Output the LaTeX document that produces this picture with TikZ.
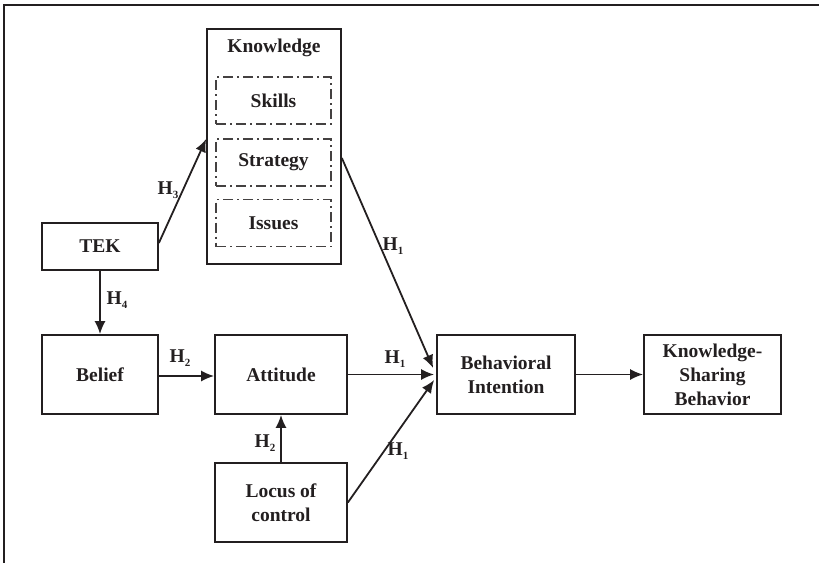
\documentclass[tikz,border=0pt]{standalone}
\usepackage{fontspec}
\setmainfont{Liberation Serif}
\usetikzlibrary{arrows.meta}
\definecolor{ink}{HTML}{231F20}
\newcommand{\hyp}[1]{H\raisebox{-3.5pt}{\fontsize{11}{11}\selectfont #1}}
\begin{document}
\begin{tikzpicture}[x=1pt,y=-1pt,
  every node/.style={font=\fontsize{19.5}{24}\selectfont\bfseries, text=ink},
  box/.style={draw=ink, line width=1.7pt, inner sep=0pt, align=center},
  dbox/.style={draw=ink!85, line width=1.1pt, inner sep=0pt, align=center,
     dash pattern=on 10pt off 4pt on 2pt off 4pt, minimum width=115pt, minimum height=47pt},
  conn/.style={draw=ink, line width=1.8pt, -{Latex[length=13pt,width=11pt]}},
  hlab/.style={inner sep=0pt}]
\useasboundingbox (0,0) rectangle (819,563);
\draw[ink, line width=1.6pt] (819,5) -- (4,5) -- (4,563);
% nodes
\node[box, minimum width=134pt, minimum height=235pt] (know) at (274,146.5) {};
\node[hlab] (kt) at (274,48) {Knowledge};
\node[dbox] (skills) at (273.5,100.5) {Skills};
\node[dbox] (strat) at (273.5,162.5) {Strategy};
\node[dbox] (issues) at (273.5,223) {Issues};
\node[box, minimum width=116pt, minimum height=47pt] (tek) at (100,246.5) {TEK};
\node[box, minimum width=116pt, minimum height=79pt] (belief) at (100,374.5) {Belief};
\node[box, minimum width=132pt, minimum height=79pt] (att) at (281,374.5) {Attitude};
\node[box, minimum width=132pt, minimum height=79pt] (loc) at (281,502.5) {Locus of\\control};
\node[box, minimum width=138pt, minimum height=79pt] (bi) at (506,374.5) {Behavioral\\Intention};
\node[box, minimum width=137pt, minimum height=79pt] (ksb) at (712.5,374.5) {Knowledge-\\Sharing\\Behavior};
% connectors
\draw[conn] ([yshift=3.5pt]tek.east) -- ([yshift=7.5pt]know.west);
\draw[conn] ([yshift=-11.5pt]know.east) -- ([xshift=-3pt,yshift=6.5pt]bi.west);
\draw[conn] (tek.south) -- (belief.north);
\draw[conn] ([yshift=-1.5pt]belief.east) -- ([yshift=-1.5pt]att.west);
\draw[conn] (att.east) -- ([xshift=-2pt]bi.west);
\draw[conn] (loc.north) -- (att.south);
\draw[conn] (loc.east) -- ([xshift=-2pt,yshift=-5.5pt]bi.west);
\draw[conn] (bi.east) -- (ksb.west);
% labels
\node[hlab] (h3) at (168,190) {\hyp{3}};
\node[hlab] (h1a) at (393,246) {\hyp{1}};
\node[hlab] (h4) at (117,300) {\hyp{4}};
\node[hlab] (h2a) at (180,358) {\hyp{2}};
\node[hlab] (h1b) at (395,359) {\hyp{1}};
\node[hlab] (h2b) at (265,443) {\hyp{2}};
\node[hlab] (h1c) at (398,451) {\hyp{1}};
\end{tikzpicture}
\end{document}
